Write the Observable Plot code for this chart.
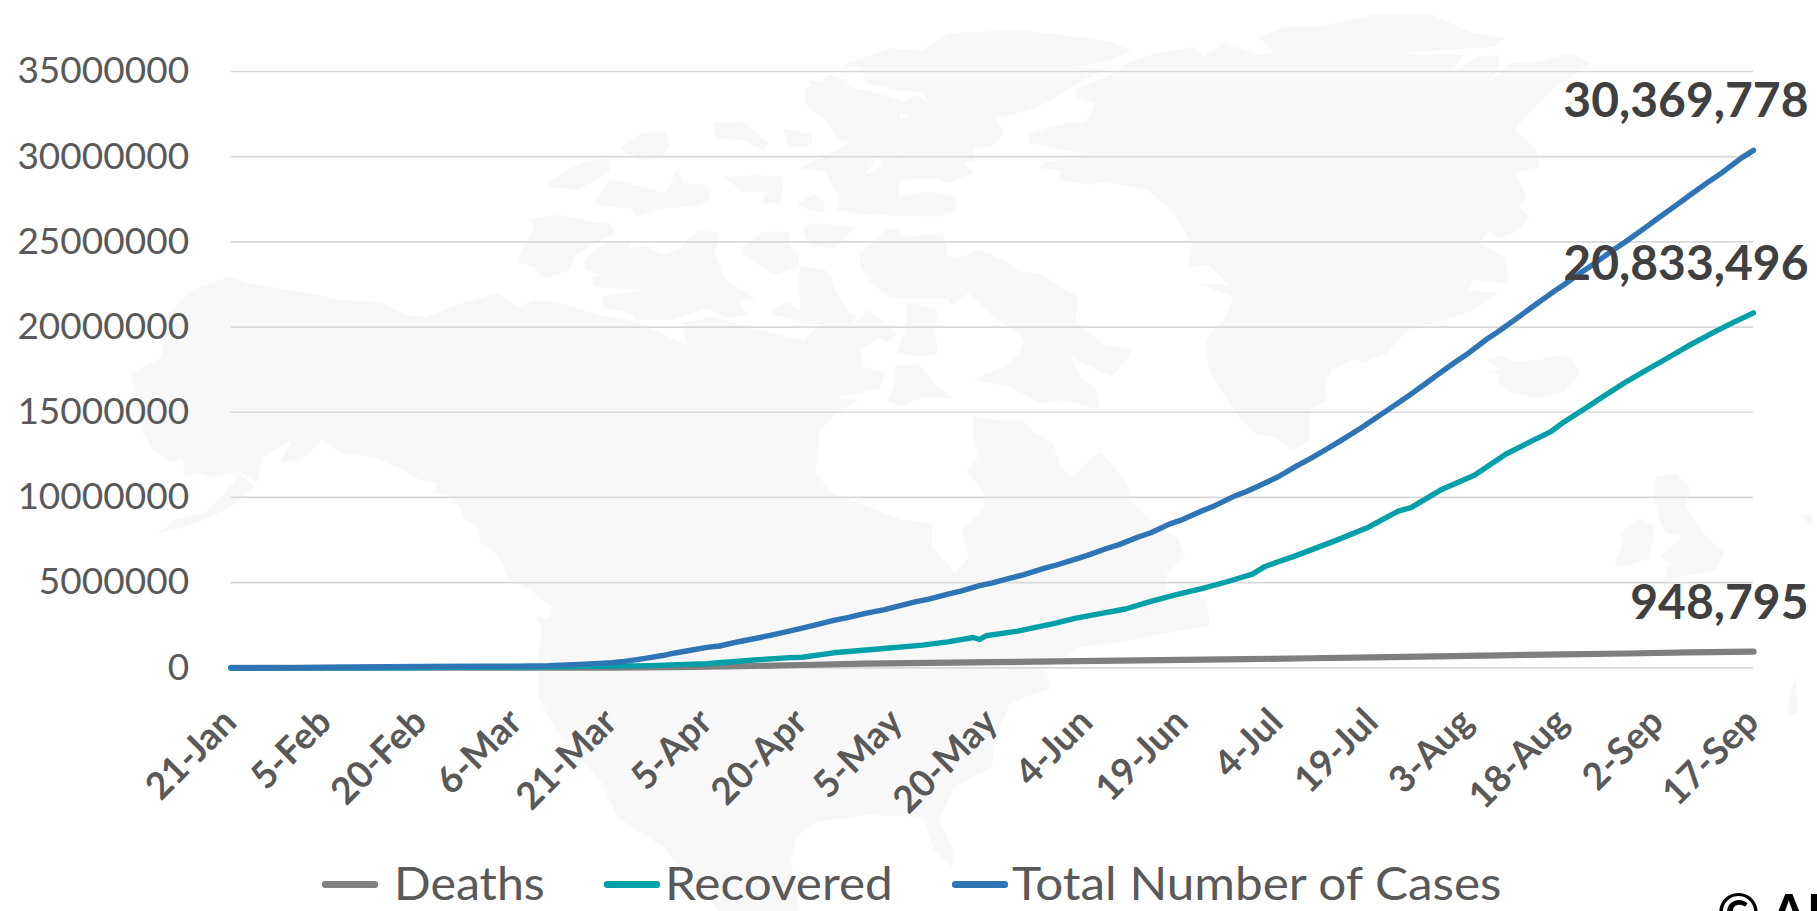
<!DOCTYPE html>
<html>
<head>
<meta charset="utf-8">
<script src="https://cdn.jsdelivr.net/npm/d3@7"></script>
<script src="https://cdn.jsdelivr.net/npm/@observablehq/plot@0.6"></script>
<style>
html,body{margin:0;padding:0;background:#fff;overflow:hidden;}
#page{position:relative;width:1817px;height:911px;overflow:hidden;font-family:Lato,sans-serif;}
#page svg{display:block;}
#backdrop{position:absolute;left:0;top:0;}
#chart{position:absolute;left:0;top:0;}
.key{position:absolute;top:855px;font-size:46px;line-height:56px;color:#595959;white-space:nowrap;transform-origin:left center;}
.swatch{position:absolute;top:881px;height:6.5px;border-radius:3px;}
#credit{position:absolute;left:1717px;top:881px;font-size:52px;line-height:60px;font-weight:700;color:#000;white-space:nowrap;}
</style>
</head>
<body>
<div id="page"></div>
<script>
// ---- chart values (millions of people, by days after 21 January 2020)
const startDate = "2020-01-21";
const tickLabels = ["2020-01-21","2020-02-05","2020-02-20","2020-03-06","2020-03-21","2020-04-05","2020-04-20","2020-05-05","2020-05-20","2020-06-04","2020-06-19","2020-07-04","2020-07-19","2020-08-03","2020-08-18","2020-09-02","2020-09-17"];
const yTicks = [0,5000000,10000000,15000000,20000000,25000000,30000000,35000000];

const totalDays = [0,10,20,30,40,45,50,55,58,60,62,64,66,68,70,72,75,77,80,83,85,88,90,92,95,97,100,103,105,108,110,113,115,118,120,123,125,128,130,133,135,138,140,143,145,148,150,153,155,158,160,163,165,168,170,173,175,178,180,183,185,188,190,193,195,198,200,203,205,208,210,213,215,218,220,223,225,228,230,233,235,238,240];
const totalCases = [0.0003,0.012,0.045,0.076,0.09,0.1,0.125,0.2,0.26,0.305,0.38,0.48,0.6,0.72,0.87,1.0,1.2,1.28,1.53,1.75,1.9,2.15,2.33,2.5,2.78,2.93,3.2,3.42,3.6,3.88,4.03,4.33,4.5,4.82,4.98,5.28,5.47,5.82,6.02,6.36,6.6,7.0,7.23,7.68,7.93,8.45,8.7,9.2,9.5,10.05,10.33,10.85,11.2,11.85,12.25,12.9,13.35,14.05,14.55,15.3,15.8,16.6,17.15,17.95,18.45,19.3,19.8,20.6,21.15,21.95,22.45,23.25,23.75,24.55,25.05,25.85,26.4,27.2,27.75,28.55,29.05,29.9,30.369778];

const recoveredDays = [0,10,20,30,40,50,60,66,75,83,88,90,95,102,109,113,117,118,119,124,130,133,137,141,145,149,153,157,161,163,168,174,179,184,186,191,196,201,205,208,210,214,216,220,223,227,230,234,237,240];
const recovered = [0,0.0003,0.002,0.012,0.04,0.06,0.1,0.13,0.24,0.47,0.6,0.62,0.88,1.1,1.33,1.52,1.78,1.66,1.88,2.15,2.62,2.9,3.18,3.45,3.9,4.3,4.65,5.05,5.5,5.95,6.6,7.45,8.2,9.2,9.4,10.5,11.3,12.55,13.3,13.85,14.4,15.35,15.85,16.8,17.45,18.3,18.95,19.75,20.3,20.833496];

const deathDays = [0,30,50,60,70,80,90,100,110,120,130,140,150,160,170,180,190,200,210,220,230,240];
const deaths = [0,0.002,0.005,0.014,0.04,0.09,0.165,0.24,0.29,0.33,0.38,0.42,0.47,0.51,0.56,0.61,0.67,0.73,0.79,0.84,0.9,0.948795];

const seriesNames = ["Deaths","Recovered","Total Number of Cases"];
const seriesColors = ["#7F7F7F","#00A0A8","#2E75B6"];
const seriesWidths = [6.2,5.4,5.4];
const endLabels = ["948,795","20,833,496","30,369,778"];
const creditText = "\u00A9 AD";

// ---- faint world-map watermark outline (page pixels)
const at = (ox, sx, oy, sy, pts) => pts.map(([a,b]) => [ox + a/sx, oy + b/sy]);
const mainland = [[143,433],[131,373],[161,358],[164,343],[166,317],[192,290],[230,277],[248,283],[273,287],[309,293],[340,300],[381,302],[406,315],[426,317],[457,305],[498,293],[518,307],[534,300],[559,303],[600,315],[636,322],[687,345],[682,323],[712,317],[779,335],[804,340],[824,320],[855,323],[870,310],[885,335],[860,350],[864,367],[886,373],[880,388],[861,393],[836,397],[860,400],[850,405],[836,413],[820,430],[815,473],[833,493],[902,520],[932,523],[932,547],[955,573],[969,557],[961,532],[984,507],[984,493],[966,470],[978,457],[973,433],[973,417],[1000,420],[1023,420],[1033,432],[1053,443],[1060,467],[1073,477],[1093,457],[1100,452],[1117,470],[1130,490],[1130,500],[1143,513],[1160,528],[1177,537],[1185,557],[1167,573],[1165,590],[1207,600],[1210,625],[1130,640],[1078,648],[1046,670],[1051,688],[1010,703],[995,740],[992,767],[954,787],[939,820],[954,850],[952,867],[934,850],[923,817],[867,815],[816,822],[796,837],[791,860],[800,911],[719,911],[704,893],[663,847],[617,817],[602,783],[556,730],[538,697],[538,670],[537,663],[542,627],[535,617],[548,618],[552,607],[530,590],[507,577],[502,563],[492,550],[480,542],[478,527],[463,518],[460,507],[450,495],[435,493],[437,483],[420,480],[403,470],[373,457],[340,453],[322,440],[312,450],[300,460],[280,463],[292,440],[263,457],[257,483],[240,472],[210,477],[197,472],[185,477],[182,458],[173,463],[153,450]];
const panhandle = [[240,474],[255,487],[233,505],[215,515],[190,525],[157,534],[175,520],[205,512],[222,497]];
const greenland = at(800,1.96,0,3,[[640,190],[700,160],[770,140],[790,170],[830,130],[900,165],[930,160],[900,110],[950,80],[1020,80],[1120,45],[1240,45],[1320,100],[1380,115],[1360,140],[1180,160],[1300,165],[1280,210],[1330,170],[1370,165],[1370,210],[1335,270],[1390,190],[1450,185],[1510,160],[1550,190],[1520,220],[1480,260],[1440,320],[1400,390],[1440,445],[1450,500],[1400,520],[1425,590],[1410,620],[1430,650],[1410,690],[1370,715],[1350,695],[1330,730],[1380,770],[1390,850],[1320,840],[1310,870],[1370,880],[1320,930],[1240,970],[1190,990],[1150,1060],[1100,1090],[1090,1075],[1040,1110],[1030,1160],[1035,1200],[1000,1230],[1000,1320],[965,1350],[930,1310],[890,1300],[860,1250],[820,1160],[800,1100],[795,1020],[830,960],[850,890],[780,850],[840,855],[800,795],[760,800],[770,740],[730,630],[680,570],[600,545],[570,555],[510,540],[510,510],[470,505],[480,485],[560,470],[540,455],[450,430],[450,400],[520,370],[560,365],[580,310],[540,290],[540,270],[610,225]]);
const northIslands = [
 [[85,195],[180,145],[240,150],[290,100],[430,90],[540,110],[610,125],[650,150],[610,180],[545,200],[590,210],[480,310],[450,330],[385,355],[400,400],[375,440],[340,445],[345,480],[320,490],[340,520],[290,550],[270,535],[200,540],[130,525],[160,495],[150,450],[200,460],[170,420],[180,360],[215,350],[180,320],[230,285],[260,320],[240,280],[310,255],[250,280],[190,270],[130,250],[120,205]],
 [[10,270],[60,225],[90,240],[100,270],[140,290],[165,320],[180,360],[150,400],[110,425],[75,420],[55,370],[10,310]],
 [[75,590],[100,555],[130,580],[180,595],[250,575],[305,590],[305,630],[270,650],[150,645],[110,640]],
 [[120,760],[180,690],[200,710],[280,700],[290,770],[320,770],[350,750],[400,780],[430,815],[470,820],[520,870],[545,890],[540,960],[590,1030],[650,1050],[640,1080],[610,1130],[570,1100],[530,1070],[550,1130],[580,1170],[590,1230],[520,1200],[470,1210],[410,1160],[340,1140],[400,1100],[430,1060],[440,1020],[410,980],[380,950],[330,880],[295,915],[290,895],[180,895],[160,875],[130,840],[160,830],[120,810]],
 [[20,670],[110,680],[70,740],[20,740],[5,690]],
 [[0,800],[50,810],[80,900],[70,910],[110,950],[100,980],[0,970]],
 [[125,930],[150,950],[190,1000],[170,1030],[150,1000],[130,970]],
 [[210,905],[270,930],[265,1000],[270,1060],[230,1070],[190,1060],[205,1000],[210,950]],
 [[185,1100],[230,1090],[270,1160],[300,1195],[240,1190],[200,1220],[170,1200],[185,1160]]
].map(p => at(800,1.96,0,3,p));
const westIslands = [
 [[845,655],[900,645],[965,665],[1000,670],[1010,700],[965,735],[930,770],[920,810],[870,835],[850,800],[820,785],[830,740],[850,690]],
 [[950,780],[990,730],[1035,725],[1040,750],[1070,735],[1100,765],[1140,745],[1150,720],[1175,690],[1215,700],[1205,760],[1225,840],[1285,895],[1250,905],[1270,945],[1230,955],[1190,925],[1120,960],[1050,960],[1040,940],[985,920],[985,890],[1060,870],[970,860],[965,830],[985,825],[950,810]],
 [[875,550],[940,490],[1000,475],[1000,510],[965,545],[935,570],[880,560]],
 [[1020,440],[1060,400],[1110,395],[1115,440],[1100,475],[1060,480],[1030,460]],
 [[970,610],[1000,535],[1060,560],[1110,580],[1130,510],[1145,550],[1190,555],[1195,600],[1170,620],[1100,625],[1050,650],[1040,625],[990,620]],
 [[1200,370],[1260,365],[1310,430],[1300,450],[1255,420],[1210,415]],
 [[1340,385],[1395,405],[1395,435],[1350,445]],
 [[1220,530],[1290,525],[1340,530],[1335,610],[1295,610],[1310,575],[1260,575]],
 [[1370,505],[1420,515],[1450,590],[1445,630],[1500,645],[1565,640],[1568,510],[1500,520],[1520,480],[1568,470],[1568,300],[1500,270],[1390,240],[1410,300],[1385,300],[1440,370],[1470,430]],
 [[1370,610],[1400,580],[1420,610],[1420,640],[1370,620]],
 [[1400,670],[1480,680],[1440,745],[1395,730]],
 [[1260,740],[1300,695],[1350,695],[1350,730],[1370,770],[1370,800],[1320,825],[1260,760]],
 [[1370,825],[1400,800],[1435,830],[1435,860],[1450,890],[1465,930],[1420,960],[1410,920],[1370,880]],
 [[1320,930],[1350,905],[1385,950],[1380,965],[1320,945]],
 [[1490,760],[1540,690],[1568,690],[1568,870],[1510,830],[1490,800]]
].map(p => at(100,1.96,0,3,p));
const eastIslands = [
 [[565,90],[610,75],[650,95],[720,90],[780,75],[820,85],[850,130],[800,185],[720,205],[640,185],[600,160],[610,130],[570,125],[610,118]],
 [[1080,440],[1140,430],[1180,470],[1170,530],[1200,580],[1240,630],[1285,665],[1260,720],[1150,740],[1100,760],[1120,700],[1090,680],[1160,620],[1110,610],[1095,580],[1070,500]],
 [[970,610],[1030,565],[1075,590],[1060,685],[960,715],[955,690],[980,640]],
 [[1520,560],[1550,550],[1550,590]],
 [[1480,1110],[1500,1040],[1510,1150],[1480,1160]]
].map(p => at(1300,3.03,330,3,p));
const landmasses = [mainland, panhandle, greenland, ...northIslands, ...westIslands, ...eastIslands];

// ---- build
const parse = d3.utcParse("%Y-%m-%d");
const t0 = parse(startDate);
const dayToDate = d => d3.utcDay.offset(t0, d);
const toRows = (days, values, name) => days.map((d, i) => ({date: dayToDate(d), value: values[i]*1e6, name}));
const rowsBySeries = [
  toRows(deathDays, deaths, seriesNames[0]),
  toRows(recoveredDays, recovered, seriesNames[1]),
  toRows(totalDays, totalCases, seriesNames[2])
];
const ends = rowsBySeries.map((rows, i) => {
  const last = rows.at(-1);
  return {date: last.date, value: last.value, text: endLabels[i]};
});

const page = document.getElementById("page");

const backdrop = d3.create("svg").attr("id","backdrop").attr("width",1817).attr("height",911);
backdrop.selectAll("path").data(landmasses).join("path")
  .attr("d", d => d3.line().curve(d3.curveLinearClosed)(d))
  .attr("fill", "#F8F8F8");
page.appendChild(backdrop.node());

const chart = Plot.plot({
  width: 1817,
  height: 850,
  marginLeft: 230.6,
  marginRight: 64,
  marginTop: 71,
  marginBottom: 182.7,
  style: {background: "transparent", fontFamily: "Lato, sans-serif", overflow: "visible"},
  x: {type: "utc", domain: [parse(tickLabels[0]), parse(tickLabels[tickLabels.length-1])]},
  y: {domain: [0, 35000000]},
  color: {domain: seriesNames, range: seriesColors},
  marks: [
    Plot.ruleY(yTicks, {stroke: "#D9D9D9", strokeWidth: 1.7}),
    Plot.axisY({ticks: yTicks, tickFormat: d => String(d), tickSize: 0, tickPadding: 42, fontSize: 37, fill: "#595959", label: null}),
    Plot.axisX({ticks: tickLabels.map(parse), tickFormat: d3.utcFormat("%-d-%b"), tickSize: 0, tickPadding: 48, dx: -1, tickRotate: -45, fontSize: 37, fontWeight: 700, fill: "#595959", label: null}),
    ...rowsBySeries.map((rows, i) => Plot.line(rows, {x: "date", y: "value", stroke: "name", strokeWidth: seriesWidths[i], strokeLinecap: "round", strokeLinejoin: "round"})),
    Plot.text(ends, {x: "date", y: "value", text: "text", textAnchor: "end", lineAnchor: "bottom", dx: 55, dy: -33, fontSize: 48, fontWeight: 700, fill: "#404040"})
  ]
});
chart.id = "chart";
page.appendChild(chart);

const keyLayout = [[322,378,394,1.05],[603.6,660,665,1.075],[952,1008,1011.6,1.075]];
seriesNames.forEach((name, i) => {
  const [a, b, tx, stretch] = keyLayout[i];
  const sw = document.createElement("div");
  sw.className = "swatch";
  sw.style.left = a + "px";
  sw.style.width = (b - a) + "px";
  sw.style.background = seriesColors[i];
  page.appendChild(sw);
  const k = document.createElement("div");
  k.className = "key";
  k.style.left = tx + "px";
  k.style.transform = "scaleX(" + stretch + ")";
  k.textContent = name;
  page.appendChild(k);
});
const credit = document.createElement("div");
credit.id = "credit";
credit.textContent = creditText;
page.appendChild(credit);
</script>
</body>
</html>
